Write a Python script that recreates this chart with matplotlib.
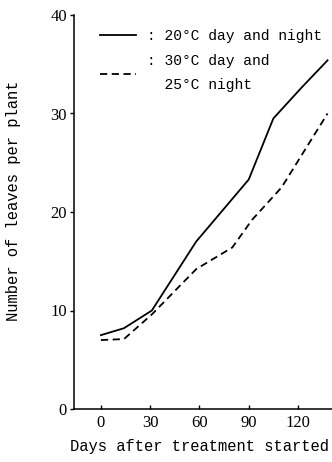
#Number of leaves per plant vs days after treatment
import matplotlib.pyplot as plt
from matplotlib.lines import Line2D

#----------data--------------------------------------
days_20 = [0, 14, 31, 58, 90, 105, 122, 138]
leaves_20 = [7.5, 8.2, 10.0, 17.0, 23.3, 29.5, 32.6, 35.4]

days_30 = [0, 14, 31, 58, 80, 92, 110, 138]
leaves_30 = [7.0, 7.1, 9.6, 14.2, 16.4, 19.2, 22.5, 30.0]

xticks = [0, 30, 60, 90, 120]
yticks = [0, 10, 20, 30, 40]

mono = 'Liberation Mono'
serif = 'Liberation Serif'

fig = plt.figure(figsize=(3.32, 4.62), dpi=100)
ax = fig.add_axes([74/332, 1-409/462, 258/332, 394/462])

ax.plot(days_20, leaves_20, color='black', linewidth=1.3, linestyle='-')
ax.plot(days_30, leaves_30, color='black', linewidth=1.3, linestyle=(0, (4, 2.5)))

ax.set_xlim(-16.4, 140.7)
ax.set_ylim(0, 40)
ax.set_xticks(xticks)
ax.set_yticks(yticks)
ax.spines['top'].set_visible(False)
ax.spines['right'].set_visible(False)
ax.spines['left'].set_linewidth(1.1)
ax.spines['bottom'].set_linewidth(1.1)
ax.tick_params(axis='x', direction='in', length=3, width=1, pad=4)
ax.tick_params(axis='y', direction='out', length=3, width=1, pad=2)
for lab in ax.get_xticklabels() + ax.get_yticklabels():
    lab.set_fontfamily(serif)
    lab.set_fontsize(12)

ax.set_xlabel('Days after treatment started', fontfamily=mono, fontsize=11.2)
ax.set_ylabel('Number of leaves per plant', fontfamily=mono, fontsize=11.2)
ax.xaxis.set_label_coords(0.4845, -0.075)
ax.yaxis.set_label_coords(-0.205, 0.528)

# legend
handles = [Line2D([], [], color='black', linewidth=1.3, linestyle='-'),
           Line2D([], [], color='black', linewidth=1.3, linestyle=(0, (4, 2.5)))]
labels = [': 20°C day and night', ': 30°C day and\n  25°C night']
leg = ax.legend(handles, labels, loc='upper left', bbox_to_anchor=(0.1, 0.965),
                frameon=False, prop={'family': mono, 'size': 10.5},
                handlelength=2.5, handletextpad=0.75, labelspacing=0.8,
                borderaxespad=0, borderpad=0)
for t in leg.get_texts():
    t.set_linespacing(1.85)

plt.savefig('out.png', dpi=100)
